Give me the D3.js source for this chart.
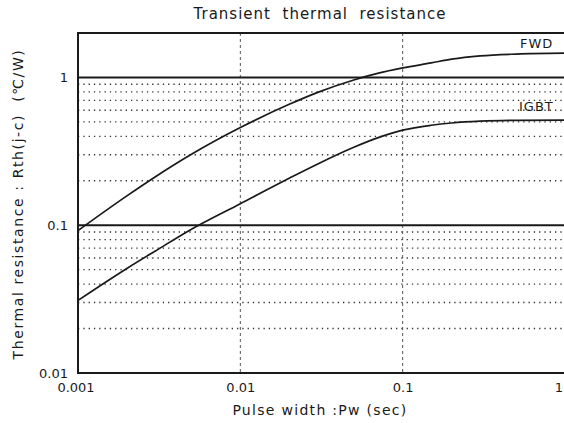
<!DOCTYPE html>
<html><head><meta charset="utf-8">
<script src="https://cdn.jsdelivr.net/npm/d3@7"></script>
<style>body{margin:0;background:#fff}svg{display:block}</style>
</head><body><svg id="c" width="564" height="423"></svg>
<script>
const pulseWidth = [0.001, 0.002, 0.003, 0.005, 0.01, 0.02, 0.03, 0.05, 0.07, 0.1, 0.15, 0.2, 0.3, 0.5, 1];
const fwdValues  = [0.092, 0.158, 0.213, 0.302, 0.458, 0.658, 0.793, 0.962, 1.065, 1.16, 1.255, 1.33, 1.40, 1.44, 1.46];
const igbtValues = [0.031, 0.051, 0.067, 0.094, 0.14, 0.208, 0.26, 0.337, 0.39, 0.44, 0.475, 0.492, 0.506, 0.513, 0.515];
const xTicks = [0.001, 0.01, 0.1, 1];
const xTickLabels = ["0.001", "0.01", "0.1", "1"];
const yTicks = [0.01, 0.1, 1];
const yTickLabels = ["0.01", "0.1", "1"];
const seriesNames = ["FWD", "IGBT"];

const svg = d3.select("#c");
const font = "'DejaVu Sans', sans-serif";
const ink = "#1a1a1a";
const x = d3.scaleLog().domain([0.001, 1]).range([78, 565]);
const y = d3.scaleLog().domain([0.01, 2]).range([373, 33]);

// minor dotted horizontal lines
const minor = [];
[0.01, 0.1, 1].forEach(d => { for (let k = 2; k <= 9; k++) { const v = d * k; if (v < 2) minor.push(v); } });
svg.append("g").selectAll("line").data(minor).join("line")
  .attr("x1", x(0.001)).attr("x2", x(1)).attr("y1", d => y(d)).attr("y2", d => y(d))
  .attr("stroke", "#333").attr("stroke-width", 1.3).attr("stroke-dasharray", "1.3,4");

// vertical dashed gridlines
svg.append("g").selectAll("line").data([0.01, 0.1]).join("line")
  .attr("x1", d => x(d)).attr("x2", d => x(d)).attr("y1", y(2)).attr("y2", y(0.01))
  .attr("stroke", "#555").attr("stroke-width", 1).attr("stroke-dasharray", "3,3");

// major horizontal lines
svg.append("g").selectAll("line").data([0.1, 1]).join("line")
  .attr("x1", x(0.001)).attr("x2", x(1)).attr("y1", d => y(d)).attr("y2", d => y(d))
  .attr("stroke", ink).attr("stroke-width", 2);

// frame
svg.append("path")
  .attr("d", `M${x(1)},${y(2)}H${x(0.001)}V${y(0.01)}H${x(1)}`)
  .attr("fill", "none").attr("stroke", ink).attr("stroke-width", 2);

// curves
const line = d3.line().x(d => x(d[0])).y(d => y(d[1])).curve(d3.curveMonotoneX);
[fwdValues, igbtValues].forEach(vals => {
  svg.append("path").datum(pulseWidth.map((p, i) => [p, vals[i]]))
    .attr("d", line).attr("fill", "none").attr("stroke", ink).attr("stroke-width", 1.7);
});

// axes (labels only)
const xAxis = d3.axisBottom(x).tickValues(xTicks).tickFormat((d, i) => xTickLabels[i]).tickSize(0).tickPadding(0);
const gx = svg.append("g").attr("transform", `translate(0,${y(0.01)})`).call(xAxis);
gx.select(".domain").remove();
gx.selectAll("text").attr("y", 10).attr("dy", "0.71em").attr("font-family", font).attr("font-size", 13).attr("fill", ink);
gx.selectAll(".tick").filter(d => d === 0.001).attr("transform", `translate(${x(0.001) - 2},0)`);
gx.selectAll(".tick").filter(d => d === 1).attr("transform", `translate(559,0)`);

const yAxis = d3.axisLeft(y).tickValues(yTicks).tickFormat((d, i) => yTickLabels[i]).tickSize(0).tickPadding(0);
const gy = svg.append("g").attr("transform", `translate(${x(0.001)},0)`).call(yAxis);
gy.select(".domain").remove();
gy.selectAll("text").attr("x", -10).attr("font-family", font).attr("font-size", 13).attr("fill", ink);

// titles
svg.append("text").attr("x", 320).attr("y", 19).attr("text-anchor", "middle")
  .attr("font-family", font).attr("font-size", 15).attr("fill", ink).attr("letter-spacing", 1)
  .style("white-space", "pre").text("Transient  thermal  resistance");
svg.append("text").attr("x", 320).attr("y", 415).attr("text-anchor", "middle")
  .attr("font-family", font).attr("font-size", 14).attr("fill", ink).attr("letter-spacing", 1.3)
  .style("white-space", "pre").text("Pulse width :Pw (sec)");
svg.append("text").attr("transform", "translate(23,204) rotate(-90)").attr("text-anchor", "middle")
  .attr("font-family", font).attr("font-size", 14).attr("fill", ink).attr("letter-spacing", 1.6)
  .style("white-space", "pre").text("Thermal resistance : Rth(j-c)  (℃/W)");

// series labels
svg.append("text").attr("x", 520).attr("y", 48).attr("font-family", font).attr("font-size", 13).attr("fill", ink).attr("letter-spacing", 1).text(seriesNames[0]);
svg.append("text").attr("x", 519).attr("y", 111).attr("font-family", font).attr("font-size", 13).attr("fill", ink).attr("letter-spacing", 1).text(seriesNames[1]);
</script></body></html>
